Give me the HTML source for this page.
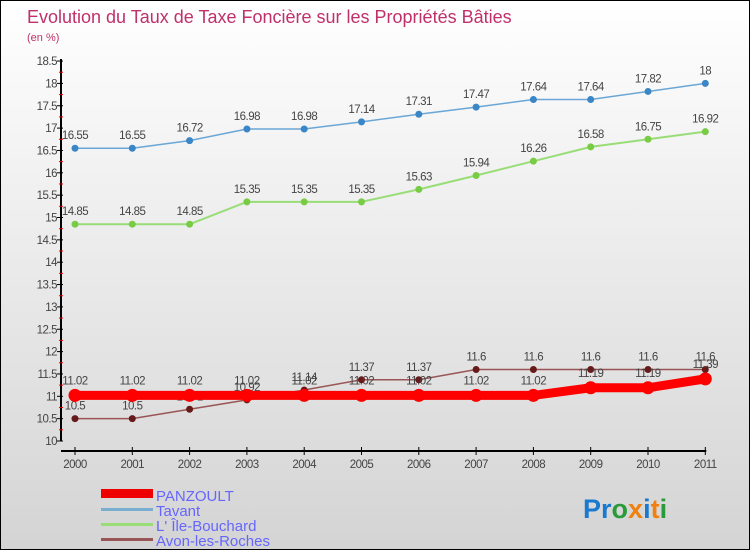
<!DOCTYPE html>
<html><head><meta charset="utf-8"><style>
body{margin:0}
#c{width:748px;height:548px;border:1px solid #000;background:linear-gradient(#fff,#d4d4d4);position:relative;font-family:"Liberation Sans",sans-serif}
</style></head><body>
<div id="c">
<svg id="s" width="748" height="548" xmlns="http://www.w3.org/2000/svg" font-family="Liberation Sans, sans-serif">
<text x="26" y="22" font-size="18" fill="#c0306a">Evolution du Taux de Taxe Foncière sur les Propriétés Bâties</text>
<text x="26" y="40" font-size="11" fill="#c0306a">(en %)</text>
<g id="g"></g>
<g>
<rect x="100" y="488" width="52" height="9" fill="#e00"/>
<text x="155" y="500" font-size="15" fill="#6666ff">PANZOULT</text>
<rect x="100" y="507" width="52" height="3" fill="#7aaed0"/>
<text x="155" y="515" font-size="15" fill="#6666ff">Tavant</text>
<rect x="100" y="522" width="52" height="3" fill="#99dd77"/>
<text x="155" y="530" font-size="15" fill="#6666ff">L' Île-Bouchard</text>
<rect x="100" y="537" width="52" height="3" fill="#995555"/>
<text x="155" y="545" font-size="15" fill="#6666ff">Avon-les-Roches</text>
</g>
<text x="582" y="517" font-size="27" font-weight="bold"><tspan fill="#1a7ad0">Pr</tspan><tspan fill="#2a9a3a">o</tspan><tspan fill="#f08010">x</tspan><tspan fill="#1a7ad0">i</tspan><tspan fill="#f08010">t</tspan><tspan fill="#2a9a3a">i</tspan></text>
</svg></div>
<script>
const years=[2000,2001,2002,2003,2004,2005,2006,2007,2008,2009,2010,2011];
const tavant=[16.55,16.55,16.72,16.98,16.98,17.14,17.31,17.47,17.64,17.64,17.82,18];
const ile=[14.85,14.85,14.85,15.35,15.35,15.35,15.63,15.94,16.26,16.58,16.75,16.92];
const avon=[10.5,10.5,10.71,10.92,11.14,11.37,11.37,11.6,11.6,11.6,11.6,11.6];
const panzoult=[11.02,11.02,11.02,11.02,11.02,11.02,11.02,11.02,11.02,11.19,11.19,11.39];
const yTicks=[10,10.5,11,11.5,12,12.5,13,13.5,14,14.5,15,15.5,16,16.5,17,17.5,18,18.5];
const NS="http://www.w3.org/2000/svg";
const g=document.getElementById('g');
const X=i=>74+i*57.3;
const Y=v=>440-(v-10)*44.7;
function mk(t,a){const e=document.createElementNS(NS,t);for(const k in a)e.setAttribute(k,a[k]);g.appendChild(e);return e;}
let e=mk('line',{x1:60,y1:Y(18.5)-2,x2:60,y2:Y(10),stroke:'#000','stroke-width':2});


yTicks.forEach(v=>{
 let t=mk('line',{x1:56,x2:62,y1:Y(v),y2:Y(v),stroke:'#000'});
 
 
 let m=mk('line',{x1:58,x2:62,y1:Y(v+0.25),y2:Y(v+0.25),stroke:'#e00'});
 if(v==18.5)m.remove();
 
 
 let l=mk('text',{x:56,y:Y(v)+4,'text-anchor':'end','font-size':11.5,fill:'#444','letter-spacing':'-0.5'});
 l.textContent=v;
 
 
});
e=mk('line',{x1:60,y1:450,x2:X(11)+1,y2:450,stroke:'#000','stroke-width':2});


years.forEach((y,i)=>{
 let t=mk('line',{x1:X(i),x2:X(i),y1:446,y2:454,stroke:'#000'});
 
 
 let l=mk('text',{x:X(i),y:467,'text-anchor':'middle','font-size':11.5,fill:'#444','letter-spacing':'-0.5'});
 l.textContent=y;
 
 
});
function series(d,col,dot,w,r,name,lblDy){
 let p=mk('polyline',{points:d.map((v,i)=>X(i)+','+Y(v)).join(' '),fill:'none',stroke:col,'stroke-width':w});
 
 
 d.forEach((v,i)=>{
  let c=mk('circle',{cx:X(i),cy:Y(v),r:r,fill:dot});
  
  
  let l=mk('text',{x:X(i),y:Y(v)+lblDy,'text-anchor':'middle','font-size':11.5,fill:'#444','letter-spacing':'-0.5'});
  l.textContent=v;
  
  
 });
}
series(tavant,'#6aa6d6','#3a86c6',1.5,3.5,'tavant',-9);
series(ile,'#99dd77','#77cc44',2,3.5,'ile-bouchard',-9);
series(avon,'#995555','#661a1a',1.5,3.5,'avon',-9);
series(panzoult,'#ff0000','#ff0000',9,6.5,'panzoult',-11);
</script>
</body></html>
